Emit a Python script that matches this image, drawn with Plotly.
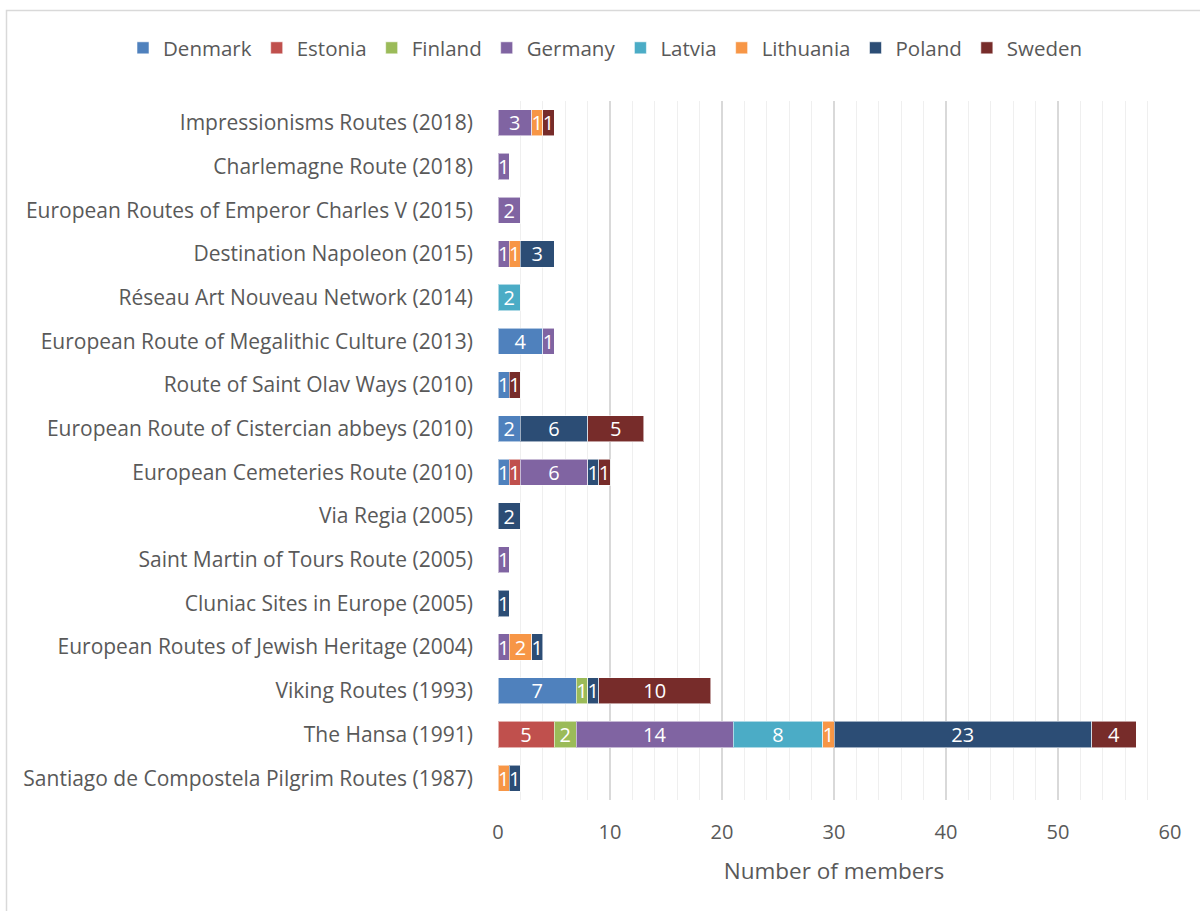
import plotly.graph_objects as go

routes = [
    "Santiago de Compostela Pilgrim Routes (1987)",
    "The Hansa (1991)",
    "Viking Routes (1993)",
    "European Routes of Jewish Heritage (2004)",
    "Cluniac Sites in Europe (2005)",
    "Saint Martin of Tours Route (2005)",
    "Via Regia (2005)",
    "European Cemeteries Route (2010)",
    "European Route of Cistercian abbeys (2010)",
    "Route of Saint Olav Ways (2010)",
    "European Route of Megalithic Culture (2013)",
    "Réseau Art Nouveau Network (2014)",
    "Destination Napoleon (2015)",
    "European Routes of Emperor Charles V (2015)",
    "Charlemagne Route (2018)",
    "Impressionisms Routes (2018)",
]

denmark   = [None, None, 7, None, None, None, None, 1, 2, 1, 4, None, None, None, None, None]
estonia   = [None, 5, None, None, None, None, None, 1, None, None, None, None, None, None, None, None]
finland   = [None, 2, 1, None, None, None, None, None, None, None, None, None, None, None, None, None]
germany   = [None, 14, None, 1, None, 1, None, 6, None, None, 1, None, 1, 2, 1, 3]
latvia    = [None, 8, None, None, None, None, None, None, None, None, None, 2, None, None, None, None]
lithuania = [1, 1, None, 2, None, None, None, None, None, None, None, None, 1, None, None, 1]
poland    = [1, 23, 1, 1, 1, None, 2, 1, 6, None, None, None, 3, None, None, None]
sweden    = [None, 4, 10, None, None, None, None, 1, 5, 1, None, None, None, None, None, 1]

series = [
    ("Denmark", denmark, "#4F81BD"),
    ("Estonia", estonia, "#C0504D"),
    ("Finland", finland, "#9BBB59"),
    ("Germany", germany, "#8064A2"),
    ("Latvia", latvia, "#4BACC6"),
    ("Lithuania", lithuania, "#F79646"),
    ("Poland", poland, "#2C4D75"),
    ("Sweden", sweden, "#772C2A"),
]

FONT = "Open Sans"
fig = go.Figure()
for name, vals, color in series:
    fig.add_trace(go.Bar(
        y=routes, x=vals, name=name, orientation="h",
        marker=dict(color=color, line=dict(color="rgba(255,255,255,0.55)", width=1)),
        text=[("" if v is None else str(v)) for v in vals],
        textposition="inside", insidetextanchor="middle", textangle=0,
        constraintext="none",
        textfont=dict(color="white", size=20, family=FONT),
        cliponaxis=False,
    ))

fig.update_layout(
    barmode="stack",
    bargap=0.4,
    width=1200, height=911,
    margin=dict(l=498, r=30, t=101, b=111),
    plot_bgcolor="white", paper_bgcolor="white",
    font=dict(family=FONT, color="#595959", size=20),
    legend=dict(orientation="h", xref="paper", yref="paper",
                x=(123 - 498) / 672, xanchor="left",
                y=(800 - 48) / 699, yanchor="middle",
                font=dict(size=20.5, color="#595959"), traceorder="normal",
                itemwidth=30),
    xaxis=dict(range=[0, 60], dtick=10, showgrid=True, gridcolor="#D9D9D9", gridwidth=1.5,
               zeroline=False, showline=False, ticks="",
               tickfont=dict(size=20, color="#595959"), ticklabelstandoff=18,
               minor=dict(dtick=2, showgrid=True, gridcolor="#EFEFEF", gridwidth=1),
               title=dict(text="Number of members", font=dict(size=22.5, color="#595959"), standoff=19)),
    yaxis=dict(categoryorder="array", categoryarray=routes, showgrid=False,
               ticks="", ticklabelstandoff=24,
               tickfont=dict(size=21, color="#595959"), range=[-0.5, 15.5]),
    uniformtext=dict(mode=False),
)

fig.add_shape(type="rect", xref="paper", yref="paper",
              x0=(6.5 - 498) / 672, x1=(1210 - 498) / 672,
              y0=(800 - 920) / 699, y1=(800 - 10.5) / 699,
              line=dict(color="#D9D9D9", width=1.5), fillcolor="rgba(0,0,0,0)", layer="below")

fig.write_html("out.html")
